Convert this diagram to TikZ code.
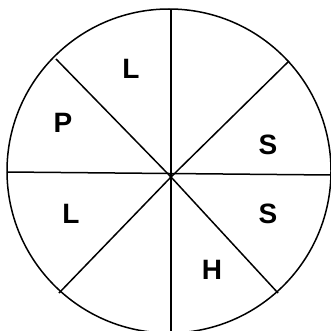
\documentclass[tikz,border=0pt]{standalone}
\usepackage{fontspec}
\setmainfont{Liberation Sans}
\tikzset{
  rim/.style={line width=1.5pt},
  spoke/.style={line width=1.5pt},
  letter/.style={font=\fontsize{28}{28}\selectfont\bfseries, inner sep=0pt}
}

\begin{document}
\begin{tikzpicture}[x=1pt,y=-1pt]
  \useasboundingbox (0,0) rectangle (331,331);
  \begin{scope}
  \clip (0,0) rectangle (331,331);

  % circle and spokes
  \coordinate (mid) at (171,177);
  \draw[rim] (169,171) circle (162);
  \coordinate (w) at (7,172);
  \coordinate (e) at (331,175);
  \coordinate (n) at (171,9);
  \coordinate (s) at (171,334);
  \coordinate (nw) at (56,59);
  \coordinate (ne) at (289,61);
  \coordinate (sw) at (59,293);
  \coordinate (se) at (278,293);
  \draw[spoke] (w) -- (e);
  \draw[spoke] (n) -- (s);
  \draw[spoke] (nw) -- (mid);
  \draw[spoke] (ne) -- (mid);
  \draw[spoke] (sw) -- (mid);
  \draw[spoke] (se) -- (mid);
  \end{scope}

  % sector letters
  \node[letter] (ltop) at (131,69) {L};
  \node[letter] (p) at (63,123) {P};
  \node[letter] (sup) at (268,145) {S};
  \node[letter] (slow) at (268,214) {S};
  \node[letter] (llow) at (71,214) {L};
  \node[letter] (h) at (212,270) {H};
\end{tikzpicture}
\end{document}
